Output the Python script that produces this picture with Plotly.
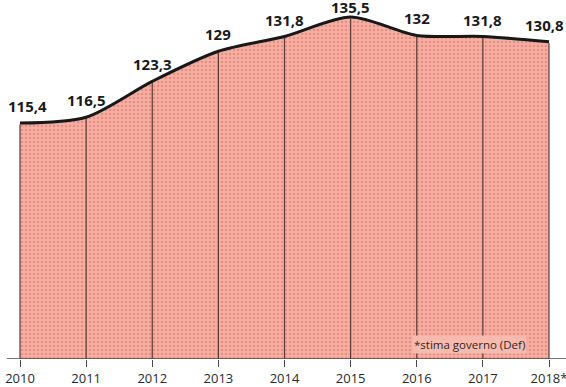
import plotly.graph_objects as go

# Debito pubblico in % del Pil, 2010-2018 (2018 = stima governo, Def)
years = [2010, 2011, 2012, 2013, 2014, 2015, 2016, 2017, 2018]
tick_labels = ["2010", "2011", "2012", "2013", "2014", "2015", "2016", "2017", "2018*"]
debt_pct = [115.4, 116.5, 123.3, 129.0, 131.8, 135.5, 132.0, 131.8, 130.8]
value_labels = ["115,4", "116,5", "123,3", "129", "131,8", "135,5", "132", "131,8", "130,8"]
note_text = "*stima governo (Def)"

FILL_BG = "#f7aea1"
FILL_DOT = "#cf6f64"
LINE_COL = "#1c1616"
GRID_COL = "#5b3a38"
TEXT_COL = "#2a2a2a"

fig = go.Figure()

fig.add_trace(go.Scatter(
    x=years,
    y=debt_pct,
    mode="lines",
    line=dict(color=LINE_COL, width=3, shape="spline", smoothing=0.8),
    fill="tozeroy",
    fillcolor=FILL_BG,
    fillpattern=dict(shape=".", fgcolor=FILL_DOT, bgcolor=FILL_BG,
                     size=4, solidity=0.3, fillmode="overlay"),
    hoverinfo="skip",
    showlegend=False,
))

y_min, y_max = 70.65, 138.72

# vertical year rules from the axis up to the curve
shapes = []
for yr, v in zip(years, debt_pct):
    shapes.append(dict(type="line", xref="x", yref="y", x0=yr, x1=yr,
                       y0=y_min, y1=v - 0.3,
                       line=dict(color=GRID_COL, width=1.2), layer="above"))
# base axis line
shapes.append(dict(type="line", xref="paper", yref="y", x0=0.012, x1=1.0,
                   y0=y_min, y1=y_min,
                   line=dict(color="#4a4a4a", width=1.6), layer="above"))

annotations = []
n = len(years)
for i, (yr, v, lab) in enumerate(zip(years, debt_pct, value_labels)):
    xs = 7 if i == 0 else (-5 if i == n - 1 else 0)
    ys = 10 if v == max(debt_pct) else 17
    annotations.append(dict(
        x=yr, y=v, xref="x", yref="y", text=lab, showarrow=False,
        xanchor="center", yanchor="middle", xshift=xs, yshift=ys,
        font=dict(family="Open Sans", size=15, color="#1a1a1a", weight="bold"),
    ))

annotations.append(dict(
    x=2016.8, y=y_min, xref="x", yref="y", text=note_text, showarrow=False,
    xanchor="center", yanchor="bottom", yshift=5,
    bgcolor="#f8baae", borderpad=1,
    font=dict(family="Open Sans", size=11.5, color=TEXT_COL),
))

fig.update_layout(
    width=566, height=387,
    margin=dict(l=0, r=0, t=0, b=28, pad=0),
    paper_bgcolor="white",
    plot_bgcolor="white",
    shapes=shapes,
    annotations=annotations,
    xaxis=dict(
        range=[2009.6975, 2018.257],
        tickmode="array", tickvals=years, ticktext=tick_labels,
        ticks="outside", ticklen=7, tickwidth=1.2, tickcolor="#4a4a4a",
        ticklabeloverflow="allow",
        showgrid=False, zeroline=False, showline=False,
        tickfont=dict(family="Open Sans", size=13, color=TEXT_COL),
        fixedrange=True,
    ),
    yaxis=dict(
        range=[y_min, y_max],
        showgrid=False, zeroline=False, showline=False,
        showticklabels=False, ticks="",
        fixedrange=True,
    ),
)

fig.write_html("out.html")
